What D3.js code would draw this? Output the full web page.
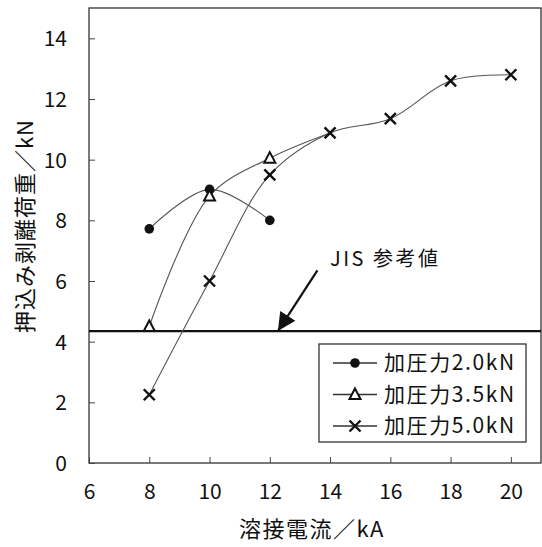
<!DOCTYPE html>
<html>
<head>
<meta charset="utf-8">
<script src="https://cdn.jsdelivr.net/npm/d3@7"></script>
<style>
  body { margin: 0; background: #fff; }
  text { font-family: "Noto Sans CJK JP", "Noto Sans", sans-serif; fill: #111; }
</style>
</head>
<body>
<div id="chart"></div>
<script>
// données
const xTicks = [6, 8, 10, 12, 14, 16, 18, 20];
const yTicks = [0, 2, 4, 6, 8, 10, 12, 14];

const seriesNames = ["加圧力2.0kN", "加圧力3.5kN", "加圧力5.0kN"];
const seriesSymbols = ["circle", "triangle", "cross"];

const current20 = [8, 10, 12];
const load20 = [7.72, 9.02, 8.0];

const current35 = [8, 10, 12, 14];
const load35 = [4.5, 8.8, 10.05, 10.88];
const marked35 = [true, true, true, false];

const current50 = [8, 10, 12, 14, 16, 18, 20];
const load50 = [2.25, 6.0, 9.5, 10.88, 11.35, 12.6, 12.8];

const jisValue = 4.35;
const jisLabel = "JIS 参考値";
const jisArrowTail = [13.58, 6.35];
const jisArrowTip = [12.27, jisValue];
const jisLabelPos = [14.0, 6.72];

const xTitle = "溶接電流／kA";
const yTitle = "押込み剥離荷重／kN";

var W = 542, H = 547;
var margin = { top: 8, right: 1, bottom: 84, left: 89 };
var width = W - margin.left - margin.right,
    height = H - margin.top - margin.bottom;

var svg = d3.select("#chart").append("svg")
    .attr("width", W).attr("height", H);

var g = svg.append("g")
    .attr("transform", "translate(" + margin.left + "," + margin.top + ")");

var x = d3.scaleLinear().domain([6, 21]).range([0, width]);
var y = d3.scaleLinear().domain([0, 15]).range([height, 0]);

// cadre
g.append("rect")
    .attr("x", 0).attr("y", 0)
    .attr("width", width).attr("height", height)
    .attr("fill", "none").attr("stroke", "#333").attr("stroke-width", 1.3);

// axes (graduations vers l'intérieur)
var xAxis = g.append("g")
    .attr("transform", "translate(0," + height + ")")
    .call(d3.axisBottom(x).tickValues(xTicks).tickSizeInner(-6).tickSizeOuter(0).tickPadding(20));
var yAxis = g.append("g")
    .call(d3.axisLeft(y).tickValues(yTicks).tickSizeInner(-6).tickSizeOuter(0).tickPadding(22));

[xAxis, yAxis].forEach(function (a) {
    a.select(".domain").remove();
    a.selectAll(".tick line").attr("stroke", "#444").attr("stroke-width", 1);
    a.selectAll(".tick text").attr("font-size", "21px").attr("fill", "#111")
        .style("font-family", "'Noto Sans CJK JP', sans-serif");
});
xAxis.selectAll(".tick text").attr("dy", "0.75em");
yAxis.selectAll(".tick text").attr("dy", "0.35em");

// titres des axes
svg.append("text")
    .attr("x", margin.left + x(13.4)).attr("y", 537)
    .attr("text-anchor", "middle")
    .attr("font-size", "22px")
    .attr("letter-spacing", "1.5px")
    .text(xTitle);

svg.append("text")
    .attr("transform", "translate(33," + 226 + ") rotate(-90)")
    .attr("text-anchor", "middle")
    .attr("font-size", "22px")
    .attr("letter-spacing", "1px")
    .text(yTitle);

// ligne JIS
g.append("line")
    .attr("x1", 0).attr("x2", width)
    .attr("y1", y(jisValue)).attr("y2", y(jisValue))
    .attr("stroke", "#111").attr("stroke-width", 2.2);

// flèche
var defs = svg.append("defs");
defs.append("marker")
    .attr("id", "arrow")
    .attr("viewBox", "0 0 10 10")
    .attr("refX", 10).attr("refY", 5)
    .attr("markerWidth", 20).attr("markerHeight", 18)
    .attr("markerUnits", "userSpaceOnUse")
    .attr("orient", "auto")
    .append("path")
    .attr("d", "M0,0 L10,5 L0,10 Z")
    .attr("fill", "#111");

g.append("line")
    .attr("x1", x(jisArrowTail[0])).attr("y1", y(jisArrowTail[1]))
    .attr("x2", x(jisArrowTip[0])).attr("y2", y(jisArrowTip[1]))
    .attr("stroke", "#111").attr("stroke-width", 2.2)
    .attr("marker-end", "url(#arrow)");

g.append("text")
    .attr("x", x(jisLabelPos[0])).attr("y", y(jisLabelPos[1]))
    .attr("dy", "0.35em")
    .attr("font-size", "20px")
    .attr("letter-spacing", "2.5px")
    .text(jisLabel);

// séries
var series = [
    { name: seriesNames[0], sym: seriesSymbols[0],
      pts: current20.map(function (c, i) { return { x: c, y: load20[i], m: true }; }) },
    { name: seriesNames[1], sym: seriesSymbols[1],
      pts: current35.map(function (c, i) { return { x: c, y: load35[i], m: marked35[i] }; }) },
    { name: seriesNames[2], sym: seriesSymbols[2],
      pts: current50.map(function (c, i) { return { x: c, y: load50[i], m: true }; }) }
];

var line = d3.line()
    .x(function (d) { return x(d.x); })
    .y(function (d) { return y(d.y); })
    .curve(d3.curveCatmullRom.alpha(0.5));

function drawSymbol(sel, sym, cx, cy) {
    if (sym === "circle") {
        sel.append("circle").attr("cx", cx).attr("cy", cy).attr("r", 4.8).attr("fill", "#111");
    } else if (sym === "triangle") {
        sel.append("path")
            .attr("d", "M" + cx + "," + (cy - 6) + " L" + (cx + 5.5) + "," + (cy + 4.5) +
                " L" + (cx - 5.5) + "," + (cy + 4.5) + " Z")
            .attr("fill", "#fff").attr("stroke", "#111").attr("stroke-width", 2);
    } else {
        var s = 5.5;
        sel.append("path")
            .attr("d", "M" + (cx - s) + "," + (cy - s) + " L" + (cx + s) + "," + (cy + s) +
                " M" + (cx - s) + "," + (cy + s) + " L" + (cx + s) + "," + (cy - s))
            .attr("stroke", "#111").attr("stroke-width", 2.4).attr("fill", "none");
    }
}

series.forEach(function (s) {
    g.append("path")
        .datum(s.pts)
        .attr("d", line)
        .attr("fill", "none")
        .attr("stroke", "#555")
        .attr("stroke-width", 1.1);
});
series.forEach(function (s) {
    var mg = g.append("g");
    s.pts.filter(function (d) { return d.m; }).forEach(function (d) {
        drawSymbol(mg, s.sym, x(d.x), y(d.y));
    });
});

// légende
var lg = svg.append("g").attr("transform", "translate(319,344)");
lg.append("rect")
    .attr("x", 0).attr("y", 0).attr("width", 207).attr("height", 98)
    .attr("fill", "#fff").attr("stroke", "#333").attr("stroke-width", 1.3);
series.forEach(function (s, i) {
    var ly = 19 + i * 31.5;
    lg.append("line")
        .attr("x1", 14).attr("x2", 58).attr("y1", ly).attr("y2", ly)
        .attr("stroke", "#333").attr("stroke-width", 1.3);
    drawSymbol(lg, s.sym, 36, ly);
    lg.append("text")
        .attr("x", 65).attr("y", ly).attr("dy", "0.35em")
        .attr("font-size", "21px")
        .attr("letter-spacing", "1.6px")
        .text(s.name);
});
</script>
</body>
</html>
